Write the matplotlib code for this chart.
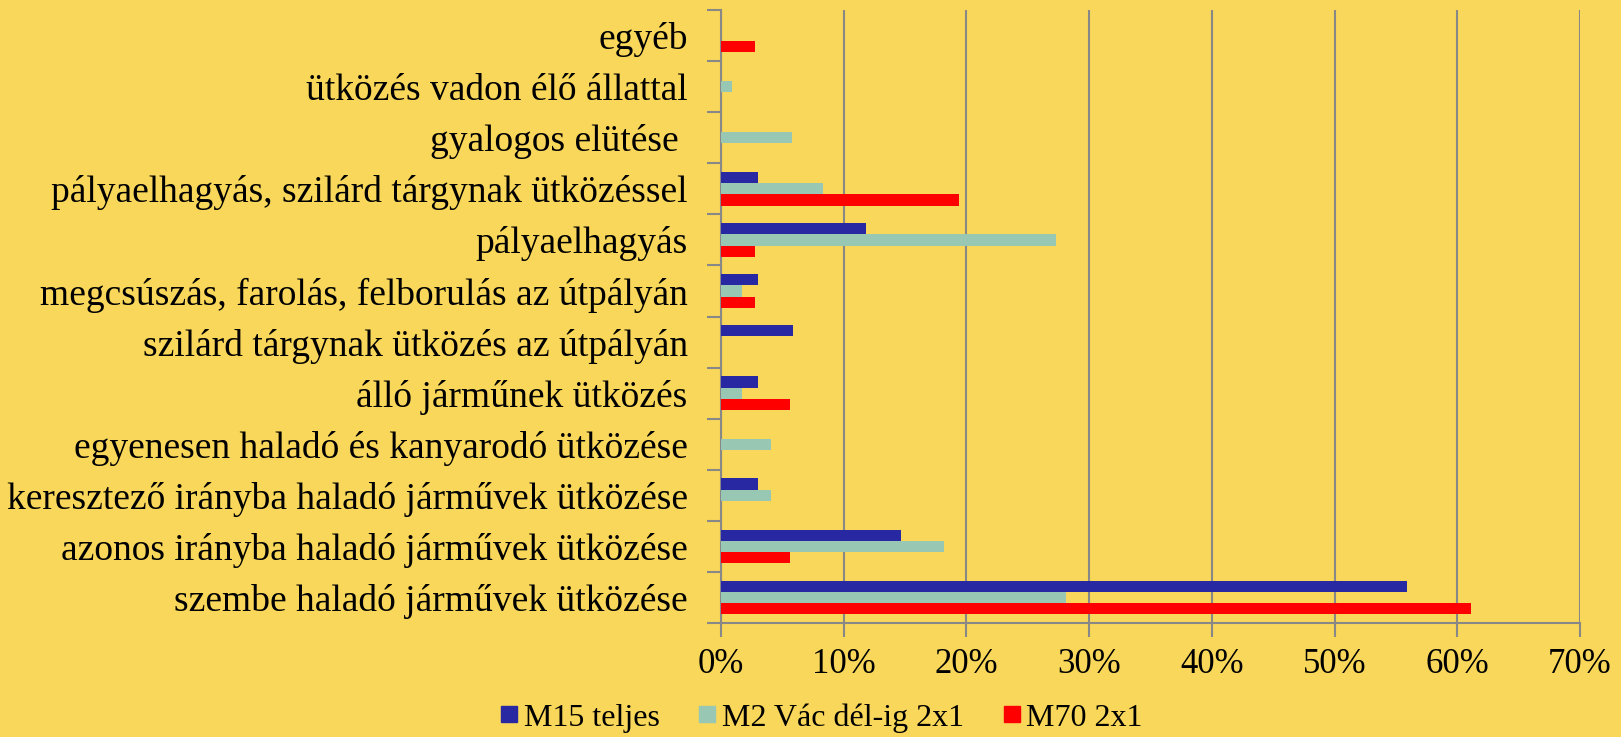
import numpy as np
import matplotlib
matplotlib.use("Agg")
import matplotlib.pyplot as plt
from matplotlib.lines import Line2D

# kategóriák felülről lefelé
kategoriak = [
    "egyéb",
    "ütközés vadon élő állattal",
    "gyalogos elütése ",
    "pályaelhagyás, szilárd tárgynak ütközéssel",
    "pályaelhagyás",
    "megcsúszás, farolás, felborulás az útpályán",
    "szilárd tárgynak ütközés az útpályán",
    "álló járműnek ütközés",
    "egyenesen haladó és kanyarodó ütközése",
    "keresztező irányba haladó járművek ütközése",
    "azonos irányba haladó járművek ütközése",
    "szembe haladó járművek ütközése",
]
m15 = [0, 0, 0, 3.0, 11.8, 3.0, 5.9, 3.0, 0, 3.0, 14.7, 55.9]
m2 = [0, 0.9, 5.8, 8.3, 27.3, 1.7, 0, 1.7, 4.1, 4.1, 18.2, 28.1]
m70 = [2.8, 0, 0, 19.4, 2.8, 2.8, 0, 5.6, 0, 0, 5.6, 61.1]
sorozatok = ["M15 teljes", "M2 Vác dél-ig 2x1", "M70 2x1"]
szinek = ["#2828A3", "#98C7B3", "#FF0000"]
x_tickek = [0, 10, 20, 30, 40, 50, 60, 70]

hatter = "#F9D75A"
plt.rcParams['font.family'] = ['Liberation Serif', 'DejaVu Serif']

fig = plt.figure(figsize=(16.21, 7.37), dpi=100, facecolor=hatter)
ax = fig.add_axes([0.4448, 0.1547, 0.9747 - 0.4448, 0.9864 - 0.1547])
ax.set_facecolor(hatter)

n = len(kategoriak)
y = np.arange(n)[::-1]  # első kategória legfelül
h = 0.22
for i, (vals, c, nev) in enumerate(zip([m15, m2, m70], szinek, sorozatok)):
    ax.barh(y + (1 - i) * h, vals, height=h, color=c, label=nev, zorder=3)

ax.set_xlim(0, 70)
ax.set_ylim(-0.5, n - 0.5)
ax.set_xticks(x_tickek)
ax.set_xticklabels([f"{v}%" for v in x_tickek], fontsize=25)
ax.set_yticks(y)
ax.set_yticklabels(kategoriak, fontsize=27)
ax.set_yticks(np.arange(n + 1) - 0.5, minor=True)
ax.tick_params(axis='y', which='major', length=0, pad=24)
ax.tick_params(axis='y', which='minor', length=10, width=1.5, color='#888888')
ax.tick_params(axis='x', length=10, width=1.5, color='#888888', pad=8)

ax.grid(axis='x', color='#888888', linewidth=1.5, zorder=0)
for s in ['top', 'right']:
    ax.spines[s].set_visible(False)
for s in ['left', 'bottom']:
    ax.spines[s].set_color('#888888')
    ax.spines[s].set_linewidth(1.5)

jelek = [Line2D([], [], marker='s', linestyle='none', markersize=11.5,
                markerfacecolor=c, markeredgecolor=c) for c in szinek]
fig.legend(jelek, sorozatok, loc='center', bbox_to_anchor=(0.506, 0.026),
           ncol=3, frameon=False, fontsize=23, handletextpad=0.1,
           handlelength=0.7, columnspacing=1.15, borderpad=0)

fig.savefig("out.png", dpi=100, facecolor=hatter)
